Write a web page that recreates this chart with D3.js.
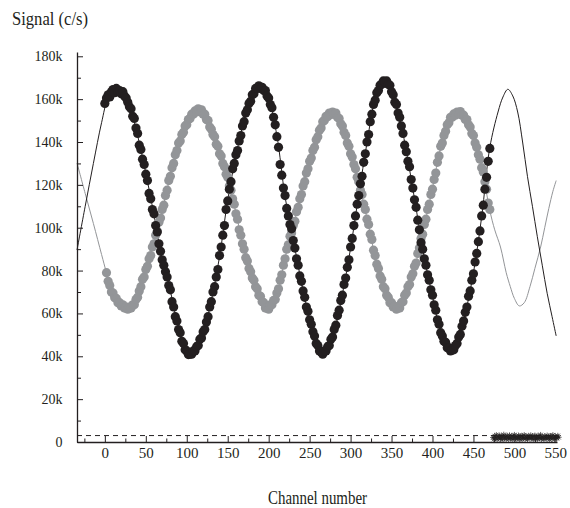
<!DOCTYPE html>
<html><head><meta charset="utf-8">
<script src="https://cdn.jsdelivr.net/npm/d3@7"></script>
<style>
html,body{margin:0;padding:0;background:#fff;}
svg{display:block;font-family:"Liberation Serif","Times New Roman",serif;}
</style></head><body>
<svg id="chart" width="570" height="508"></svg>
<script>
// ---- data (values in thousands of counts per second) ----
const blackStart = 0, grayStart = 2, dotStep = 2;
const blackValues = [
158,160.5,162,161,163.5,164.5,163,165,163.5,164,162.5,163.5,161.5,160.5,158.5,156.5,
155.5,152,151,146.5,144,138.5,136.5,132,129.5,125,122,116,113.5,108.5,106.5,101,
98,92.5,89,85,82.5,79.5,77,73,71,65.5,63,58.5,56.5,52.5,51,47,
46,43,42.5,40.8,41,41,42.5,42.5,44.5,45,48,48.5,51.5,52.5,56,58.5,
63,65.5,70,72.5,77,80.5,87,91,96.5,101,108.5,112.5,118,121.5,127.5,130,
134,136,140.5,143,147.5,149.5,153.5,155,158,159,162,162.5,165,165,166.2,165,
165.5,164,164,161.5,160.5,157.5,156,151.5,148,142.5,137.5,129.5,124.5,118.5,115,109,
105.5,101.5,99.5,94,90.5,85.5,82.5,77.5,75,70.5,67.5,63,61,57,55,51.5,
49.5,46,45,42.5,42,41,42.5,42.5,44.5,45,48,49,52.5,54.5,59,61.5,
66,68.5,73.5,76.5,81.5,85,91,95,101,105.5,111,115,120.5,124,130.5,134.5,
140,143.5,149.5,153,157.5,159.5,163,164,166.5,167,168.5,168,168.5,167,166.5,163.5,
162,158.5,157.5,153.5,151.5,147.5,144,138.5,135.5,131,128.5,122.5,118.5,113,109.5,103.5,
99,93,90,85.5,82.5,78,75.5,71,68.5,64,61.5,57,55,51,49.5,47,
46.5,44,44,42.5,43,43,45,46,49,50.2,54,56.5,60.5,63,68,70.5,
75.5,78.5,84,88,93.5,98.5,105.5,110.5,118,123.5,131,137
];
const grayValues = [
79,75,73,70,69.5,67.3,67,65,65,63.5,64,62.5,63,62,63,62.5,
64,64,66.5,67.5,70.5,72.5,76,77,80.5,82,85.5,87,91,92.5,96.5,98.5,
102.5,104.5,108.5,110.5,115,117.5,122,124,128,130,134,136,139.5,140.5,143.5,144.5,
147.5,148,150.5,151,153,153,154.5,154,155.5,154.5,155,153,153,150.5,150,147,
146,143.5,142.5,139,138,134.5,133.5,130,128.5,125,123.5,119.5,117.5,113.5,111,106.5,
104,99,96.5,92.5,90,86,84.5,81,79.5,76.5,75.5,72.5,71.5,68.5,68,65.5,
65,62.5,62.8,62,64,64,66,66.5,69.5,71.5,75.5,78,82.5,85.5,90,92,
96,97.5,101,103,107.5,109.5,113.5,115.5,119.5,121.5,125.5,127.5,131,132.5,136,137.5,
141,142.5,145.5,146.5,149.5,150,152,151.8,153.5,152.8,154,153,153.5,151.5,151,148.5,
147.5,144.5,143,139.5,138,134.5,133,129.5,127.5,123.5,121.5,117.5,115.5,111,108.5,104,
101.5,97,94.5,89.5,87,83,81,77.5,76,72.5,71.5,68.5,67.5,65,65,63,
63.3,62,63,62.5,65,65.5,68.5,69.5,72.5,73.5,77,78.5,82,83.5,88,90.5,
95,97,101.5,104,108.5,111,115.5,118,122.5,125.5,130.5,133.5,138,139.5,143,145,
148,149,151.5,151.5,153.1,152.5,154,153.2,154.2,152.5,152.5,150.5,150.5,148,147,144,
143,139.5,137.5,134,132,128,126,121.5,118,111.5,108.5
];
const blackFitChannels = [-34,-24,-14,-4,4,12,20,30,40,50,60,70,80,90,100,110,120,130,140,150,160,170,180,190,200,210,220,230,240,250,260,270,280,290,300,310,320,330,340,350,360,370,380,390,400,410,420,430,440,450,460,470,480,486,492,498,504,510,516,522,528,534,540,546,551];
const blackFitValues = [89.6,110,130,149,160.5,164,164,157,143,125.5,106,85.5,70.5,53,42,43,51,66,86.5,113,133.5,150,161.5,165.5,160,143,114.5,94.5,74.5,57.5,44.5,43,52,69,90.5,115.5,139.5,160,168,164,151,131.5,109,86,68,51.5,43.5,46.5,60,79,105,137.5,154,161,164.6,161.5,154,140,123.8,110,95.8,82.5,69.4,58.5,49.5];
const grayFitChannels = [-34,-24,-14,-4,2,10,20,28,40,50,60,70,80,90,100,110,116,124,130,140,150,160,170,180,190,198,210,220,230,240,250,260,270,280,290,300,310,320,330,340,350,356,370,380,390,400,410,420,432,440,450,460,470,476,483,490,495,500,506,512,519,525,532,537,542,547,551];
const grayFitValues = [130.2,116,102,87.5,79,69,64,62.4,68,80,93,108,124.5,139,148.5,154,155,151,145.5,135,123,107,89.5,77,67.5,62.4,69,86,100.5,116,130.5,143,151.5,153.4,147,135,121,104.5,86.5,73,64.5,62.4,72,84,101,118.5,137.5,149.5,153.7,151,142.5,128.5,108,99,91,79,72.5,67,63.5,65,72.5,81,91,100,109,117,122];
const noiseStart = 474;
const noiseValues = [
2.1,1.4,2.8,1.9,3.2,1.2,2.5,2.0,3.0,1.6,
2.7,1.1,2.3,3.4,1.8,2.6,1.3,2.9,2.2,1.5,
3.1,2.0,1.7,2.8,1.2,2.4,3.3,1.9,2.6,1.4,
2.1,3.0,1.6,2.5,1.1,2.9,2.2,1.8,3.2,1.5,
2.7,2.0,1.3,2.8,2.3,1.7,3.1,1.9,2.4,1.2,
2.6,3.0,1.6,2.2,1.4,2.9,2.1,1.8,3.3,1.5,
2.5,2.0,1.3,2.7,2.2,1.7,3.0,1.9,2.4,1.1,
2.8,2.3,1.6,3.2,2.0,1.4,2.6,2.1,1.8,2.9,
2.2
];
const thresholdValue = 3;
const xTickValues = [0,50,100,150,200,250,300,350,400,450,500,550];
const xMinorTicks = [-25,25,75,125,175,225,275,325,375,425,475,525];
const yTickValues = [0,20,40,60,80,100,120,140,160,180];
const yMinorTicks = [10,30,50,70,90,110,130,150,170];
const xLabel = "Channel number";
const yLabel = "Signal (c/s)";

// ---- drawing ----
const ink = "#231f20", grayInk = "#939598";
const serif = '"Liberation Serif","Times New Roman",Times,serif';
const svg = d3.select("#chart");
svg.append("rect").attr("width",570).attr("height",508).attr("fill","#fff");
const x = d3.scaleLinear().domain([-34, 552]).range([77, 557]);
const y = d3.scaleLinear().domain([0, 182]).range([442, 52]);

const black = blackValues.map((v,i)=>({c: blackStart + i*dotStep, v}));
const gray = grayValues.map((v,i)=>({c: grayStart + i*dotStep, v}));
const blackFit = blackFitChannels.map((c,i)=>({c, v: blackFitValues[i]}));
const grayFit = grayFitChannels.map((c,i)=>({c, v: grayFitValues[i]}));
const noise = noiseValues.map((v,i)=>({c: noiseStart + i, v}));

const line = d3.line().x(d=>x(d.c)).y(d=>y(d.v)).curve(d3.curveCatmullRom.alpha(0.5));

// fits
svg.append("path").datum(grayFit).attr("d", line)
  .attr("fill","none").attr("stroke", grayInk).attr("stroke-width", 1);
svg.append("path").datum(blackFit).attr("d", line)
  .attr("fill","none").attr("stroke", ink).attr("stroke-width", 1);

// threshold dashed line
svg.append("line")
  .attr("x1", x(-34)).attr("x2", x(552))
  .attr("y1", y(thresholdValue)).attr("y2", y(thresholdValue))
  .attr("stroke", ink).attr("stroke-width", 1).attr("stroke-dasharray","5,4");

// dots
svg.append("g").selectAll("circle").data(gray).join("circle")
  .attr("cx", d=>x(d.c)).attr("cy", d=>y(d.v)).attr("r", 4.6).attr("fill", grayInk);
svg.append("g").selectAll("circle").data(black).join("circle")
  .attr("cx", d=>x(d.c)).attr("cy", d=>y(d.v)).attr("r", 4.6).attr("fill", ink);

// noise markers
svg.append("g").selectAll("path").data(noise).join("path")
  .attr("transform", d=>`translate(${x(d.c)},${y(d.v)})`)
  .attr("d","M-3,0H3M0,-3V3M-2.2,-2.2L2.2,2.2M-2.2,2.2L2.2,-2.2")
  .attr("stroke", ink).attr("stroke-width", 0.7).attr("fill","none");

// axes
const xAxis = svg.append("g").attr("transform","translate(0,442)")
  .call(d3.axisBottom(x).tickValues(xTickValues).tickSizeInner(-6).tickSizeOuter(0).tickPadding(5.4));
const xMinor = svg.append("g").attr("transform","translate(0,442)")
  .call(d3.axisBottom(x).tickValues(xMinorTicks).tickSizeInner(-3.5).tickSizeOuter(0).tickFormat(()=>""));
xMinor.select(".domain").remove();
const yAxis = svg.append("g").attr("transform","translate(77,0)")
  .call(d3.axisLeft(y).tickValues(yTickValues).tickSizeInner(-6).tickSizeOuter(0).tickPadding(14.5)
    .tickFormat(d=> d===0 ? "0" : d+"k"));
const yMinor = svg.append("g").attr("transform","translate(77,0)")
  .call(d3.axisLeft(y).tickValues(yMinorTicks).tickSizeInner(-4).tickSizeOuter(0).tickFormat(()=>""));
yMinor.select(".domain").remove();

svg.selectAll("g").attr("font-family", serif);
svg.selectAll(".domain").attr("stroke", ink).attr("stroke-width", 1.3);
svg.selectAll(".tick line").attr("stroke", ink).attr("stroke-width", 1);
xAxis.selectAll("text").attr("font-size", 15).attr("fill", ink).attr("font-family", serif);
yAxis.selectAll("text").attr("font-size", 14).attr("fill", ink).attr("font-family", serif);

// titles
svg.append("text").attr("x", 317.5).attr("y", 504).attr("text-anchor","middle")
  .attr("font-family", serif).attr("font-size", 19).attr("fill", ink)
  .attr("textLength", 99).attr("lengthAdjust","spacingAndGlyphs").text(xLabel);
svg.append("text").attr("x", 12).attr("y", 25)
  .attr("font-family", serif).attr("font-size", 19).attr("fill", ink)
  .attr("textLength", 76).attr("lengthAdjust","spacingAndGlyphs").text(yLabel);
</script>
</body></html>
